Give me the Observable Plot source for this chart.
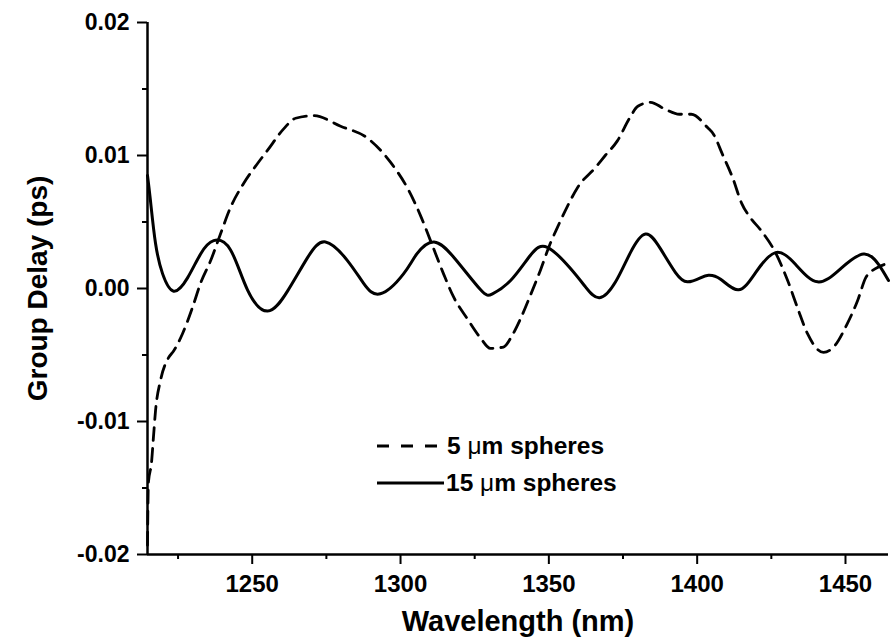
<!DOCTYPE html>
<html>
<head>
<meta charset="utf-8">
<script src="https://cdn.jsdelivr.net/npm/d3@7"></script>
<script src="https://cdn.jsdelivr.net/npm/@observablehq/plot@0.6"></script>
<style>
  body { margin: 0; background: #fff; }
  #wrap { position: relative; width: 892px; height: 644px; font-family: "Liberation Sans", Arial, sans-serif; }
  #legend { position: absolute; left: 377px; top: 431px; font-weight: bold; font-size: 24.5px; color: #000; }
  .row { display: flex; align-items: center; height: 30px; }
  .row2 { margin-top: 7px; }
  .mu { font-weight: normal; }
</style>
</head>
<body>
<div id="wrap"></div>
<script>
// 5 µm spheres (dashed)
const wl5 = [1214.7,1215.0,1216.05,1216.7,1217.4,1219.1,1221.8,1223.5,1226.5,1229.9,1232.6,1236.0,1239.3,1242.7,1247.1,1251.8,1255.2,1260.6,1264.6,1270.7,1279.8,1288.9,1296.6,1302.7,1306.7,1310.1,1314.5,1317.8,1322.6,1326.9,1330.3,1334.7,1337.7,1340.4,1343.8,1347.2,1350.5,1352.9,1356.3,1359.7,1365.7,1369.0,1373.1,1377.2,1380.0,1384.3,1389.0,1394.0,1398.0,1403.5,1405.5,1408.5,1412.0,1415.0,1418.0,1421.4,1426.4,1430.5,1433.9,1437.2,1442.6,1446.0,1450.7,1454.1,1456.8,1460.1,1463.0];
const gd5 = [-0.0193,-0.0146,-0.0131,-0.0112,-0.0092,-0.0069,-0.0052,-0.0047,-0.0034,-0.0014,0.0004,0.0021,0.0041,0.0061,0.0079,0.0094,0.0104,0.0120,0.0128,0.0130,0.0122,0.0113,0.0095,0.0074,0.0055,0.0036,0.0011,-0.0006,-0.0023,-0.0037,-0.0045,-0.0044,-0.0035,-0.0023,-0.0005,0.0014,0.0034,0.0046,0.0062,0.0076,0.0091,0.0100,0.0111,0.0128,0.0137,0.0140,0.0135,0.0131,0.0131,0.0121,0.0116,0.0101,0.0083,0.0064,0.0053,0.0044,0.0027,0.0006,-0.0015,-0.0034,-0.0048,-0.0044,-0.0026,-0.0009,0.0008,0.0015,0.0018];

// 15 µm spheres (solid)
const wl15 = [1214.7,1215.7,1217.4,1219.8,1223.5,1228.2,1232.6,1237.0,1242.7,1248.4,1255.2,1261.9,1268.6,1274.7,1282.1,1287.5,1293.2,1301.0,1305.5,1311.3,1318.5,1327.0,1331.0,1337.1,1343.8,1349.5,1357.3,1362.4,1367.1,1372.5,1377.5,1382.6,1387.6,1392.7,1396.7,1401.1,1403.8,1407.9,1413.9,1419.7,1426.4,1433.2,1440.6,1448.4,1456.1,1461.2,1464.5];
const gd15 = [0.0085,0.0066,0.0034,0.0011,-0.0002,0.0008,0.0026,0.0036,0.0029,-0.0001,-0.0017,-0.0002,0.0023,0.0035,0.0021,0.0004,-0.0004,0.0011,0.0026,0.0035,0.0022,-0.0001,-0.0004,0.0006,0.0025,0.0031,0.0015,0.0001,-0.0007,0.0005,0.0027,0.0041,0.0030,0.0012,0.0005,0.0008,0.0010,0.0007,-0.0001,0.0012,0.0027,0.0018,0.0005,0.0015,0.0026,0.0018,0.0006];

const xMajor = [1250, 1300, 1350, 1400, 1450];
const xMinor = [1225, 1275, 1325, 1375, 1425];
const yMajor = [-0.02, -0.01, 0, 0.01, 0.02];
const yMinor = [-0.015, -0.005, 0.005, 0.015];
const xDomain = [1214.7, 1464.5];
const yDomain = [-0.02, 0.02];

const series5 = wl5.map((x, i) => ({x, y: gd5[i]}));
const series15 = wl15.map((x, i) => ({x, y: gd15[i]}));

const font = "Liberation Sans, Arial, sans-serif";

const chart = Plot.plot({
  width: 892,
  height: 644,
  marginLeft: 147,
  marginRight: 4,
  marginTop: 22,
  marginBottom: 90,
  style: {fontFamily: font, color: "#000", background: "#fff", overflow: "visible"},
  x: {domain: xDomain},
  y: {domain: yDomain},
  marks: [
    Plot.axisX({ticks: xMajor, tickSize: 10, tickPadding: 10, tickFormat: d => String(d), fontSize: 24, fontWeight: "bold", strokeWidth: 2, label: null}),
    Plot.axisX({ticks: xMinor, tickSize: 5, tickFormat: () => "", strokeWidth: 2, label: null}),
    Plot.axisY({ticks: yMajor, tickSize: 10, tickPadding: 8, tickFormat: d => d.toFixed(2), fontSize: 23, fontWeight: "bold", strokeWidth: 2, label: null}),
    Plot.axisY({ticks: yMinor, tickSize: 5, tickFormat: () => "", strokeWidth: 2, label: null}),
    Plot.ruleX([xDomain[0]], {stroke: "#000", strokeWidth: 2.5}),
    Plot.ruleY([yDomain[0]], {stroke: "#000", strokeWidth: 2.5}),
    Plot.text(["Wavelength (nm)"], {frameAnchor: "bottom", dy: 76, fontSize: 29, fontWeight: "bold", fill: "#000"}),
    Plot.text(["Group Delay (ps)"], {frameAnchor: "left", dx: -109, rotate: -90, textAnchor: "middle", fontSize: 28, fontWeight: "bold", fill: "#000"}),
    Plot.line(series5, {x: "x", y: "y", curve: "monotone-x", stroke: "#000", strokeWidth: 2.8, strokeDasharray: "13,8"}),
    Plot.line(series15, {x: "x", y: "y", curve: "natural", stroke: "#000", strokeWidth: 3})
  ]
});

const wrap = document.getElementById("wrap");
wrap.appendChild(chart);

const legend = document.createElement("div");
legend.id = "legend";
legend.innerHTML = `
  <div class="row"><svg width="70" height="10"><line x1="0" y1="5" x2="62" y2="5" stroke="#000" stroke-width="3" stroke-dasharray="12,12"/></svg><span>5 <span class="mu">μ</span>m spheres</span></div>
  <div class="row row2"><svg width="69" height="10"><line x1="0" y1="5" x2="67" y2="5" stroke="#000" stroke-width="3"/></svg><span>15 <span class="mu">μ</span>m spheres</span></div>`;
wrap.appendChild(legend);
</script>
</body>
</html>
